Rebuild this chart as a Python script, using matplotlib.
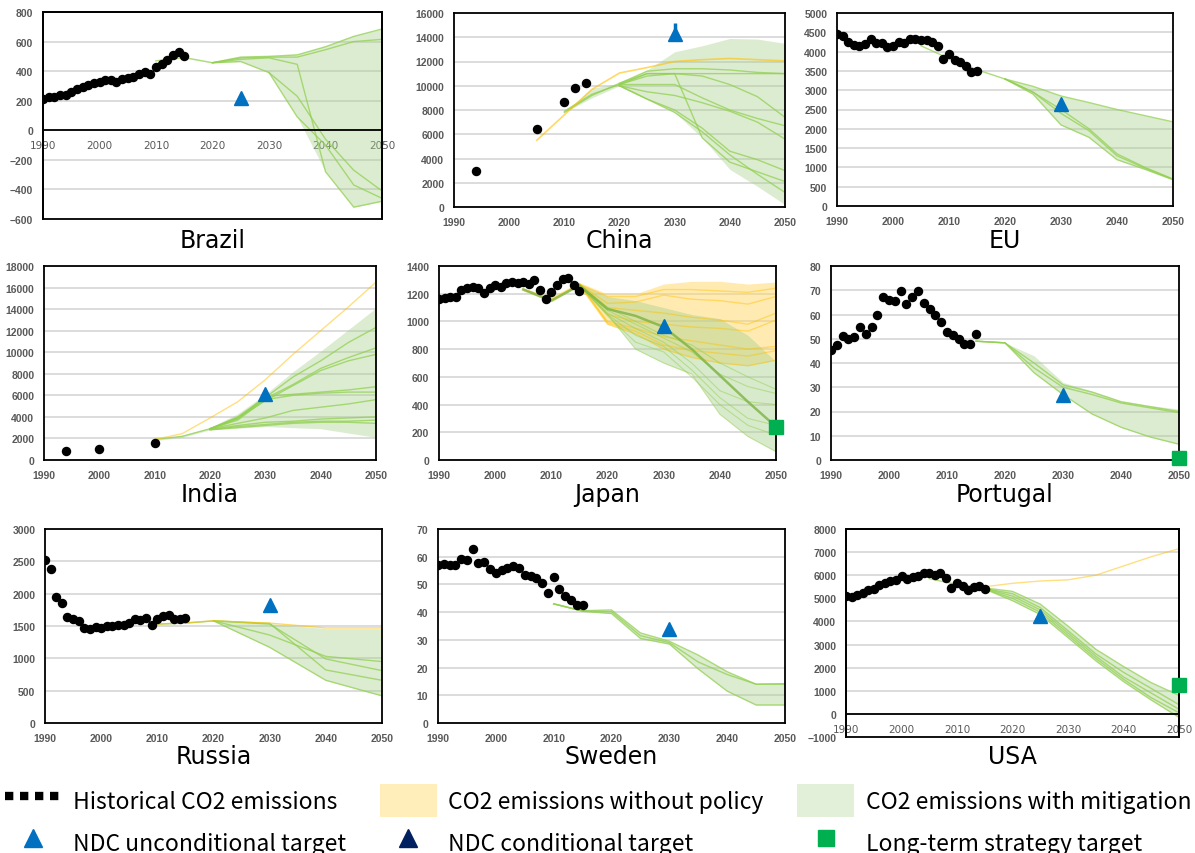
import numpy as np
import matplotlib
matplotlib.use('Agg')
import matplotlib.pyplot as plt
from matplotlib.lines import Line2D
from matplotlib.patches import Patch, Rectangle

N = np.nan

# --------------------------
# data (Mt-CO2)
hist_years = list(range(1990, 2016))
proj_years = [2005, 2010, 2015, 2020, 2025, 2030, 2035, 2040, 2045, 2050]

# Brazil
brazil_hist = [213, 222, 224, 236, 242, 258, 276, 292, 305, 317, 328, 337, 337, 328, 346,
               353, 360, 378, 396, 378, 425, 450, 477, 509, 527, 504]
brazil_mit_upper = [N, 470, 492, 457, 495, 500, 515, 570, 640, 685]
brazil_mit_lower = [N, 470, 488, 455, 465, 390, 90, -280, -520, -480]
brazil_mit_lines = [
    [N, 470, 492, 457, 495, 500, 510, 565, 635, 685],
    [N, N, N, 457, 490, 495, 495, 545, 600, 615],
    [N, N, N, 457, 465, 390, 230, -60, -270, -410],
    [N, N, N, 457, 480, 490, 446, -280, -520, -480],
    [N, N, N, N, N, 390, 90, -100, -370, -460],
]
brazil_ndc = (2025, 220)

# China
china_hist_years = [1994, 2005, 2010, 2012, 2014]
china_hist = [3000, 6400, 8700, 9850, 10250]
china_base = [5500, 7600, 9700, 11050, 11500, 12000, 12150, 12250, 12150, 12050]
china_mit_upper = [N, 7800, 9800, 10200, 11300, 12800, 13300, 13900, 13850, 13500]
china_mit_lower = [N, 7800, 9000, 10000, 8900, 7800, 5700, 3100, 1700, 200]
china_mit_lines = [
    [N, 7800, 9200, 10200, 11000, 11000, 11000, 11000, 11000, 11000],
    [N, N, N, 10200, 11200, 11400, 11400, 11300, 11100, 11000],
    [N, 7900, 9300, 10100, 11000, 11000, 10800, 10100, 9100, 7400],
    [N, N, N, 10100, 10100, 10100, 9000, 8000, 7300, 6700],
    [N, N, N, 10100, 10800, 11000, 5700, 3700, 2900, 2100],
    [N, N, N, 10000, 9500, 9200, 8600, 7900, 7000, 5600],
    [N, N, N, 10000, 8900, 8000, 6500, 4600, 3900, 3000],
    [N, N, N, 10000, 8900, 7800, 6200, 4300, 2700, 1200],
]
china_ndc = (2030, 14300)
china_ndc_range = (13800, 15200)

# EU
eu_hist = [4466, 4414, 4250, 4181, 4155, 4207, 4319, 4233, 4216, 4129, 4155, 4250, 4233,
           4319, 4319, 4293, 4293, 4250, 4155, 3810, 3931, 3793, 3724, 3629, 3474, 3500]
eu_mit_upper = [4150, 3820, 3530, 3290, 3100, 2850, 2680, 2500, 2340, 2180]
eu_mit_lower = [4150, 3820, 3530, 3290, 2900, 2100, 1780, 1200, 950, 680]
eu_mit_lines = [
    [4150, 3820, 3530, 3290, 3100, 2850, 2680, 2500, 2340, 2180],
    [N, N, N, 3290, 2950, 2500, 2000, 1350, 1000, 700],
    [N, N, N, 3290, 2950, 2400, 1950, 1300, 980, 690],
    [N, N, N, 3290, 2900, 2100, 1780, 1200, 950, 680],
]
eu_ndc = (2030, 2650)

# India
india_hist_years = [1994, 2000, 2010]
india_hist = [800, 1050, 1600]
india_base = [N, 1900, 2450, 3900, 5400, 7450, 9800, 12000, 14200, 16500]
india_mit_upper = [N, 1900, 2300, 3000, 4300, 6100, 8200, 10100, 12100, 14100]
india_mit_lower = [N, 1800, 2100, 2800, 2950, 3100, 3000, 2900, 2500, 2100]
india_mit_lines = [
    [N, 1900, 2200, 2900, 4000, 5800, 7700, 9200, 10900, 12300],
    [N, N, N, 2900, 3900, 5700, 7000, 8500, 9500, 10400],
    [N, N, N, 2900, 3900, 5500, 6900, 8300, 9200, 9800],
    [N, N, N, 2900, 3800, 5900, 6100, 6300, 6500, 6800],
    [N, N, N, 2900, 3700, 5600, 6000, 6200, 6300, 6300],
    [N, N, N, 2900, 3400, 3900, 4600, 4900, 5200, 5600],
    [N, N, N, 2850, 3200, 3500, 3600, 3800, 3900, 4000],
    [N, N, N, 2800, 3100, 3300, 3500, 3600, 3600, 3700],
    [N, N, N, 2800, 3000, 3200, 3400, 3500, 3500, 3400],
]
india_ndc = (2030, 6100)

# Japan
japan_hist = [1159, 1166, 1178, 1173, 1224, 1239, 1251, 1243, 1205, 1243, 1263, 1248, 1275,
              1287, 1280, 1287, 1267, 1301, 1229, 1159, 1210, 1260, 1306, 1311, 1260, 1222]
japan_base_upper = [1240, 1180, 1280, 1200, 1200, 1270, 1290, 1290, 1270, 1285]
japan_base_lower = [1220, 1140, 1260, 980, 910, 800, 740, 700, 680, 720]
japan_base_lines = [
    [1235, 1160, 1270, 1130, 1140, 1190, 1160, 1150, 1125, 1180],
    [N, N, 1270, 1180, 1180, 1230, 1230, 1220, 1210, 1240],
    [N, N, 1270, 1100, 1080, 1060, 1030, 1010, 980, 1060],
    [N, N, 1270, 1050, 1000, 980, 960, 950, 930, 1010],
    [N, N, 1270, 1000, 950, 890, 860, 830, 800, 820],
    [N, N, 1270, 990, 930, 830, 790, 770, 750, 790],
    [N, N, 1260, 980, 910, 800, 740, 700, 680, 720],
]
japan_mit_upper = [N, N, 1270, 1180, 1150, 1100, 1050, 1020, 900, 710]
japan_mit_lower = [N, N, 1260, 1050, 800, 700, 620, 330, 170, 60]
japan_mit_lines = [
    [1230, 1150, 1260, 1090, 1040, 960, 800, 610, 420, 240],
    [N, N, 1260, 1100, 1000, 900, 830, 700, 600, 510],
    [N, N, 1260, 1080, 980, 880, 780, 620, 530, 480],
    [N, N, 1260, 1060, 950, 850, 700, 500, 420, 400],
    [N, N, 1260, 1050, 900, 820, 650, 450, 300, 250],
    [N, N, 1260, 1040, 850, 780, 600, 400, 250, 180],
    [N, N, 1260, 1050, 800, 700, 620, 330, 170, 60],
]
japan_ndc = (2030, 970)
japan_lts = (2050, 240)

# Portugal
portugal_hist = [45.4, 47.3, 51.2, 50.1, 50.8, 54.9, 52.0, 54.9, 59.6, 67.3, 65.9, 65.5, 69.5,
                 64.3, 67.3, 69.5, 64.8, 62.2, 60.0, 57.1, 52.7, 51.6, 49.8, 48.0, 48.0, 52.0]
portugal_mit_upper = [N, N, 49.0, 48.3, 43, 32, 28.5, 24.5, 22.5, 21]
portugal_mit_lower = [N, N, 49.0, 48.3, 36, 27, 19, 13.5, 9.5, 6.5]
portugal_mit_lines = [
    [N, N, 49.0, 48.3, 40, 31, 28, 24, 22, 20],
    [N, N, 49.0, 48.3, 38, 30, 27, 23.5, 21.5, 19.5],
    [N, N, 49.0, 48.3, 36, 27, 19, 13.5, 9.5, 6.5],
]
portugal_ndc = (2030, 27)
portugal_lts = (2050, 1)

# Russia
russia_years = [2010, 2015, 2020, 2030, 2040, 2050]
russia_hist = [2526, 2381, 1943, 1851, 1634, 1608, 1577, 1474, 1454, 1479, 1464, 1495, 1495,
               1521, 1521, 1541, 1608, 1593, 1629, 1521, 1608, 1660, 1675, 1608, 1608, 1619]
russia_base = [1530, 1550, 1580, 1545, 1470, 1470]
russia_mit_upper = [1530, 1545, 1590, 1540, 1460, 1460]
russia_mit_lower = [1520, 1540, 1575, 1170, 660, 420]
russia_mit_lines = [
    [1530, 1545, 1580, 1360, 1030, 950],
    [N, N, 1580, 1530, 990, 810],
    [N, N, 1580, 1540, 820, 660],
    [N, N, 1580, 1170, 660, 420],
]
russia_ndc = (2030, 1820)

# Sweden
sweden_hist = [57.0, 57.4, 57.1, 57.0, 59.2, 58.9, 62.8, 57.6, 58.2, 55.4, 54.1, 55.1, 56.0,
               56.8, 56.0, 53.5, 53.2, 52.3, 50.4, 46.9, 52.6, 48.4, 45.9, 44.4, 42.7, 42.7]
sweden_mit_upper = [N, 43, 40.5, 40.8, 32.5, 29.5, 24.5, 18.5, 14, 14.2]
sweden_mit_lower = [N, 43, 40.3, 39.5, 30.5, 28.5, 19.5, 11.5, 6.5, 6.5]
sweden_mit_lines = [
    [N, 43, 40.5, 40.8, 32.5, 29.5, 24.5, 18.5, 14, 14.2],
    [N, 43, 40.4, 40.2, 31.5, 29, 22, 17.5, 14, 14],
    [N, 43, 40.3, 39.5, 30.5, 28.5, 19.5, 11.5, 6.5, 6.5],
]
sweden_ndc = (2030, 34)

# USA
usa_hist = [5086, 5043, 5130, 5245, 5360, 5389, 5576, 5663, 5735, 5807, 5965, 5850, 5922,
            5965, 6081, 6081, 5994, 6081, 5879, 5461, 5663, 5548, 5360, 5504, 5548, 5403]
usa_base = [N, N, 5500, 5650, 5750, 5800, 6000, 6400, 6800, 7150]
usa_mit_upper = [5850, 5600, 5450, 5300, 4750, 3800, 2800, 2050, 1350, 800]
usa_mit_lower = [5850, 5600, 5400, 4900, 4300, 3300, 2300, 1400, 600, -150]
usa_mit_lines = [
    [5850, 5600, 5450, 5300, 4750, 3800, 2800, 2050, 1350, 800],
    [N, N, 5420, 5200, 4600, 3600, 2600, 1800, 1100, 400],
    [N, N, 5420, 5100, 4500, 3500, 2500, 1600, 900, 200],
    [N, N, 5400, 5000, 4400, 3400, 2400, 1500, 700, 50],
    [N, N, 5400, 4900, 4300, 3300, 2300, 1400, 600, -150],
]
usa_ndc = (2025, 4250)
usa_lts = (2050, 1250)

# --------------------------
# style
GREEN_LINE = '#92d050'
GREEN_FILL = '#a9d18e'
YELLOW_LINE = '#ffc000'
YELLOW_FILL = '#ffd966'
BLUE = '#0070c0'
NAVY = '#002060'
LTS = '#00b050'
TICK = '#595959'

W, H = 1195, 854
fig = plt.figure(figsize=(W / 100, H / 100), dpi=100)


def box(l, t, r, b):
    return [l / W, 1 - b / H, (r - l) / W, (b - t) / H]


def pts(xs, ys):
    xs = np.asarray(xs, float)
    ys = np.asarray(ys, float)
    m = ~np.isnan(ys)
    return xs[m], ys[m]


def style(ax, lo, hi, step, zero_axis=False):
    ax.set_xlim(1990, 2050)
    ax.set_ylim(lo, hi)
    ax.set_xticks(range(1990, 2051, 10))
    ax.set_yticks(np.arange(lo, hi + step / 2, step))
    ax.grid(axis='y', color='#d9d9d9', lw=1.3)
    ax.set_axisbelow(True)
    ax.tick_params(length=0, labelsize=7.5, labelcolor=TICK, pad=7)
    for lbl in ax.get_xticklabels() + ax.get_yticklabels():
        lbl.set_fontweight('bold')
        lbl.set_family('Liberation Sans')
    for s in ax.spines.values():
        s.set_color('black')
        s.set_linewidth(1.3)
    if zero_axis:
        ax.spines['bottom'].set_position(('data', 0))
        ax.add_patch(Rectangle((0, 0), 1, 1, transform=ax.transAxes, fill=False,
                               ec='black', lw=1.3, clip_on=False, zorder=5))


def band(ax, years, upper, lower, color, alpha):
    x, u = pts(years, upper)
    _, l = pts(years, lower)
    ax.fill_between(x, l, u, color=color, alpha=alpha, lw=0, zorder=1)


def lines(ax, years, series, color, lw=1.0, alpha=0.75):
    for s in series:
        x, y = pts(years, s)
        ax.plot(x, y, color=color, lw=lw, alpha=alpha, zorder=2)


def hist(ax, years, vals):
    ax.plot(years, vals, 'o', color='black', ms=5.8, zorder=4)


def ndc(ax, pt, color=BLUE):
    ax.plot(*pt, '^', color=color, ms=10, zorder=6, clip_on=False)


def lts(ax, pt):
    ax.plot(*pt, 's', color=LTS, ms=10, zorder=6, clip_on=False)


boxes = {
    'Brazil': (43, 13, 382, 220), 'China': (454, 14, 785, 208), 'EU': (837, 14, 1173, 207),
    'India': (44, 267, 376, 461), 'Japan': (439, 267, 776, 461), 'Portugal': (831, 267, 1179, 461),
    'Russia': (45, 530, 382, 724), 'Sweden': (438, 530, 785, 724), 'USA': (846, 530, 1179, 738),
}
title_base = {'Brazil': 248, 'China': 248, 'EU': 248, 'India': 502, 'Japan': 502,
              'Portugal': 502, 'Russia': 764, 'Sweden': 764, 'USA': 764}
axs = {}
for name, b in boxes.items():
    axs[name] = fig.add_axes(box(*b))
    cx = (b[0] + b[2]) / 2
    fig.text(cx / W, 1 - title_base[name] / H, name, ha='center', va='baseline',
             fontsize=17, family='DejaVu Sans')

# Brazil
ax = axs['Brazil']
band(ax, proj_years, brazil_mit_upper, brazil_mit_lower, GREEN_FILL, 0.4)
lines(ax, proj_years, brazil_mit_lines, GREEN_LINE)
hist(ax, hist_years, brazil_hist)
ndc(ax, brazil_ndc)
style(ax, -600, 800, 200, zero_axis=True)

# China
ax = axs['China']
band(ax, proj_years, china_mit_upper, china_mit_lower, GREEN_FILL, 0.4)
lines(ax, proj_years, china_mit_lines, GREEN_LINE)
lines(ax, proj_years, [china_base], YELLOW_LINE, lw=1.2, alpha=0.6)
hist(ax, china_hist_years, china_hist)
ax.errorbar(china_ndc[0], china_ndc[1],
            yerr=[[china_ndc[1] - china_ndc_range[0]], [china_ndc_range[1] - china_ndc[1]]],
            color=BLUE, lw=2.5, capsize=0, zorder=6)
ndc(ax, china_ndc)
style(ax, 0, 16000, 2000)

# EU
ax = axs['EU']
band(ax, proj_years, eu_mit_upper, eu_mit_lower, GREEN_FILL, 0.4)
lines(ax, proj_years, eu_mit_lines, GREEN_LINE)
hist(ax, hist_years, eu_hist)
ndc(ax, eu_ndc)
style(ax, 0, 5000, 500)

# India
ax = axs['India']
band(ax, proj_years, india_mit_upper, india_mit_lower, GREEN_FILL, 0.4)
lines(ax, proj_years, india_mit_lines, GREEN_LINE)
lines(ax, proj_years, [india_base], YELLOW_LINE, lw=1.0, alpha=0.5)
hist(ax, india_hist_years, india_hist)
ndc(ax, india_ndc)
style(ax, 0, 18000, 2000)

# Japan
ax = axs['Japan']
band(ax, proj_years, japan_base_upper, japan_base_lower, YELLOW_FILL, 0.5)
band(ax, proj_years, japan_mit_upper, japan_mit_lower, GREEN_FILL, 0.45)
lines(ax, proj_years, japan_base_lines, YELLOW_LINE, lw=1.0, alpha=0.45)
lines(ax, proj_years, japan_mit_lines[1:], GREEN_LINE, lw=0.8, alpha=0.5)
lines(ax, proj_years, japan_mit_lines[:1], '#7cb342', lw=1.8, alpha=0.8)
hist(ax, hist_years, japan_hist)
ndc(ax, japan_ndc)
lts(ax, japan_lts)
style(ax, 0, 1400, 200)

# Portugal
ax = axs['Portugal']
band(ax, proj_years, portugal_mit_upper, portugal_mit_lower, GREEN_FILL, 0.4)
lines(ax, proj_years, portugal_mit_lines, GREEN_LINE)
hist(ax, hist_years, portugal_hist)
ndc(ax, portugal_ndc)
lts(ax, portugal_lts)
style(ax, 0, 80, 10)

# Russia
ax = axs['Russia']
band(ax, russia_years, russia_mit_upper, russia_mit_lower, GREEN_FILL, 0.4)
lines(ax, russia_years, russia_mit_lines, GREEN_LINE)
lines(ax, russia_years, [russia_base], YELLOW_LINE, lw=1.0, alpha=0.6)
hist(ax, hist_years, russia_hist)
ndc(ax, russia_ndc)
style(ax, 0, 3000, 500)

# Sweden
ax = axs['Sweden']
band(ax, proj_years, sweden_mit_upper, sweden_mit_lower, GREEN_FILL, 0.4)
lines(ax, proj_years, sweden_mit_lines, GREEN_LINE)
hist(ax, hist_years, sweden_hist)
ndc(ax, sweden_ndc)
style(ax, 0, 70, 10)

# USA
ax = axs['USA']
band(ax, proj_years, usa_mit_upper, usa_mit_lower, GREEN_FILL, 0.4)
lines(ax, proj_years, usa_mit_lines, GREEN_LINE)
lines(ax, proj_years, [usa_base], YELLOW_LINE, lw=1.0, alpha=0.5)
hist(ax, hist_years, usa_hist)
ndc(ax, usa_ndc)
lts(ax, usa_lts)
style(ax, -1000, 8000, 1000, zero_axis=True)

# --------------------------
# legend
handles = [
    Line2D([], [], color='black', lw=6, ls=(0, (1, 0.8))),
    Line2D([], [], ls='none', marker='^', color=BLUE, ms=13),
    Patch(facecolor='#ffeeba', edgecolor='none'),
    Line2D([], [], ls='none', marker='^', color=NAVY, ms=13),
    Patch(facecolor='#e2f0d9', edgecolor='none'),
    Line2D([], [], ls='none', marker='s', color=LTS, ms=11),
]
labels = ['Historical CO2 emissions', 'NDC unconditional target',
          'CO2 emissions without policy', 'NDC conditional target',
          'CO2 emissions with mitigation', 'Long-term strategy target']
fig.legend(handles, labels, loc='lower left', bbox_to_anchor=(0.0, -0.012), ncol=3,
           frameon=False, prop={'family': ['Noto Sans CJK JP', 'DejaVu Sans'], 'size': 16.5},
           handlelength=2.5, handleheight=1.8, handletextpad=0.5, columnspacing=1.45,
           labelspacing=0.42, borderaxespad=0.0, borderpad=0.2)

fig.savefig('out.png', dpi=100)
